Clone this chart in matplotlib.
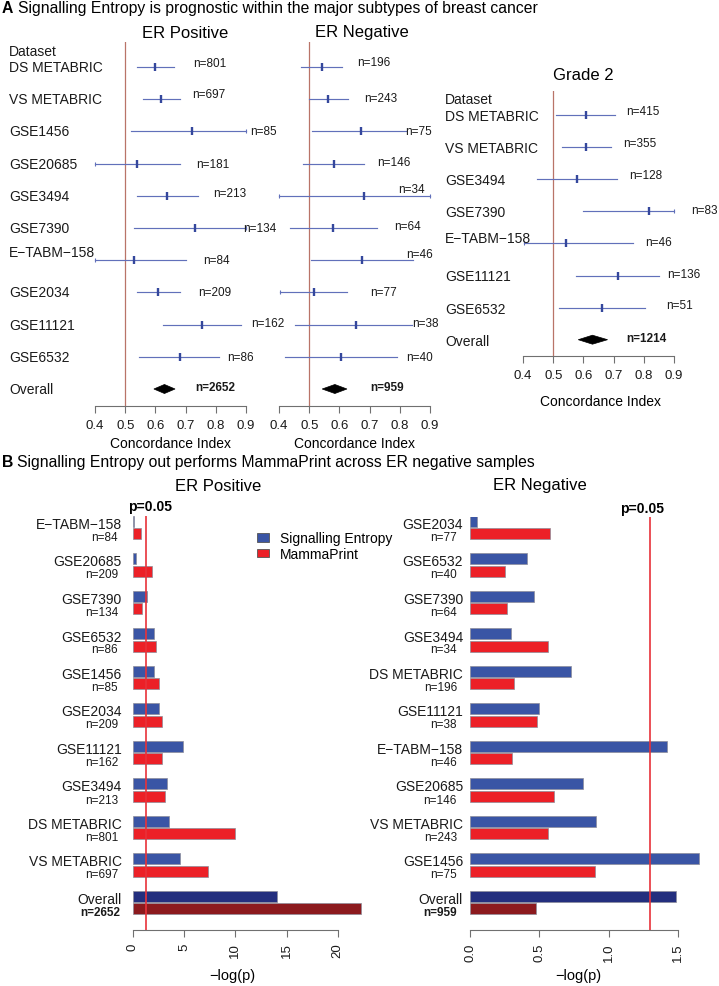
import matplotlib
matplotlib.use("Agg")
import matplotlib.pyplot as plt
from matplotlib.patches import Polygon, Patch
import numpy as np

plt.rcParams['font.family'] = ['Liberation Sans', 'DejaVu Sans']

# ---------------- data: panel A (forest plots) ----------------
erpos_names = ['DS METABRIC', 'VS METABRIC', 'GSE1456', 'GSE20685', 'GSE3494', 'GSE7390',
               'E\u2212TABM\u2212158', 'GSE2034', 'GSE11121', 'GSE6532']
erpos_n = [801, 697, 85, 181, 213, 134, 84, 209, 162, 86]
erpos_lo = [0.54, 0.56, 0.52, 0.40, 0.54, 0.53, 0.40, 0.54, 0.625, 0.545]
erpos_mid = [0.60, 0.62, 0.72, 0.54, 0.64, 0.73, 0.53, 0.61, 0.755, 0.68]
erpos_hi = [0.66, 0.68, 0.90, 0.68, 0.74, 0.90, 0.70, 0.68, 0.885, 0.81]
erpos_overall = [0.595, 0.63, 0.665]
erpos_n_overall = 2652

erneg_n = [196, 243, 75, 146, 34, 64, 46, 77, 38, 40]
erneg_lo = [0.473, 0.50, 0.51, 0.48, 0.40, 0.437, 0.507, 0.404, 0.454, 0.42]
erneg_mid = [0.543, 0.563, 0.67, 0.583, 0.68, 0.58, 0.676, 0.515, 0.655, 0.605]
erneg_hi = [0.61, 0.63, 0.82, 0.68, 0.90, 0.725, 0.845, 0.625, 0.84, 0.79]
erneg_overall = [0.543, 0.585, 0.625]
erneg_n_overall = 959

g2_names = ['DS METABRIC', 'VS METABRIC', 'GSE3494', 'GSE7390', 'E\u2212TABM\u2212158',
            'GSE11121', 'GSE6532']
g2_n = [415, 355, 128, 83, 46, 136, 51]
g2_lo = [0.51, 0.53, 0.447, 0.60, 0.404, 0.576, 0.52]
g2_mid = [0.609, 0.61, 0.58, 0.818, 0.543, 0.715, 0.662]
g2_hi = [0.705, 0.69, 0.71, 0.90, 0.765, 0.85, 0.805]
g2_overall = [0.583, 0.63, 0.68]
g2_n_overall = 1214

ci_ticks = [0.4, 0.5, 0.6, 0.7, 0.8, 0.9]

# ---------------- data: panel B (bar charts) ----------------
bpos_names = ['E\u2212TABM\u2212158', 'GSE20685', 'GSE7390', 'GSE6532', 'GSE1456', 'GSE2034',
              'GSE11121', 'GSE3494', 'DS METABRIC', 'VS METABRIC', 'Overall']
bpos_n = [84, 209, 134, 86, 85, 209, 162, 213, 801, 697, 2652]
bpos_se = [0.08, 0.29, 1.34, 2.08, 2.02, 2.57, 4.85, 3.29, 3.55, 4.62, 14.1]
bpos_mp = [0.75, 1.86, 0.88, 2.28, 2.5, 2.86, 2.8, 3.12, 9.93, 7.29, 22.3]
bpos_ticks = [0, 5, 10, 15, 20]

bneg_names = ['GSE2034', 'GSE6532', 'GSE7390', 'GSE3494', 'DS METABRIC', 'GSE11121',
              'E\u2212TABM\u2212158', 'GSE20685', 'VS METABRIC', 'GSE1456', 'Overall']
bneg_n = [77, 40, 64, 34, 196, 38, 46, 146, 243, 75, 959]
bneg_se = [0.048, 0.41, 0.46, 0.296, 0.726, 0.50, 1.424, 0.813, 0.907, 1.652, 1.489]
bneg_mp = [0.575, 0.25, 0.27, 0.56, 0.32, 0.486, 0.303, 0.604, 0.563, 0.90, 0.478]
bneg_ticks = [0.0, 0.5, 1.0, 1.5]
bneg_ticklabels = ['0.0', '0.5', '1.0', '1.5']

p_threshold = -np.log10(0.05)

# ---------------- layout (label placement, not data) ----------------
erpos_lab_x = [0.7245, 0.721, 0.913, 0.734, 0.791, 0.89, 0.758, 0.741, 0.917, 0.837]
erpos_lab_dy = [4, 5, 0, 0, 3, 0, 0, 0, 2, 0]
erpos_ov_x = 0.731
erneg_lab_x = [0.658, 0.681, 0.817, 0.724, 0.794, 0.781, 0.82, 0.701, 0.84, 0.82]
erneg_lab_dy = [5, 1, 0, 2, 7, 2, 6, 0, 2, 0]
erneg_ov_x = 0.701
g2_lab_x = [0.741, 0.731, 0.751, 0.956, 0.804, 0.877, 0.874]
g2_lab_dy = [4, 4, 4, 1, 1, 1, 3]
g2_ov_x = 0.741

W, H = 719, 987
fig = plt.figure(figsize=(W / 100, H / 100), dpi=100)


def T(x, y, s, size, **kw):
    kw.setdefault('va', 'center')
    return fig.text(x / W, 1 - y / H, s, fontsize=size, **kw)


def add_ax(left, top, right, bottom):
    return fig.add_axes([left / W, 1 - bottom / H, (right - left) / W, (bottom - top) / H])


CI_COL = '#6170ba'
PT_COL = '#34479c'
REF_COL = '#b97468'
AX_COL = '#707070'
TXT = '#1a1a1a'


def forest(left, right, top, bottom, row0, pitch, lo, mid, hi, ns, ov, n_ov,
           lab_x, lab_dy, ov_x):
    ax = add_ax(left, top, right, bottom)
    nrow = len(lo) + 1
    ax.set_xlim(0.4, 0.9)
    ax.set_ylim((bottom - row0) / pitch, (top - row0) / pitch)
    ax.axvline(0.5, color=REF_COL, lw=0.9, zorder=1)
    for i in range(len(lo)):
        ax.plot([lo[i], hi[i]], [i, i], color=CI_COL, lw=0.85, zorder=2, clip_on=False)
        ax.plot([mid[i]], [i], marker='|', ms=5.5, mew=1.7, color=PT_COL, zorder=3, clip_on=False)
        for e in (lo[i], hi[i]):
            if e <= 0.405 or e >= 0.895:
                ax.plot([e], [i], marker='|', ms=3, mew=0.8, color=CI_COL, clip_on=False)
        ax.text(lab_x[i], i - lab_dy[i] / pitch, f'n={ns[i]}', fontsize=8.5, color=TXT,
                va='center', ha='left', clip_on=False)
    yo = nrow - 1
    h = 0.14
    ax.add_patch(Polygon([[ov[0], yo], [ov[1], yo - h], [ov[2], yo], [ov[1], yo + h]],
                         closed=True, facecolor='black', edgecolor='black', lw=0.5, zorder=3))
    ax.text(ov_x, yo - 0.06, f'n={n_ov}', fontsize=8.5, fontweight='bold', color=TXT,
            va='center', ha='left', clip_on=False)
    for s in ['top', 'right', 'left']:
        ax.spines[s].set_visible(False)
    ax.spines['bottom'].set_color(AX_COL)
    ax.spines['bottom'].set_linewidth(0.8)
    ax.set_yticks([])
    ax.set_xticks(ci_ticks)
    ax.set_xticklabels([f'{t:.1f}' for t in ci_ticks])
    ax.tick_params(axis='x', direction='out', length=5, width=0.8, color=AX_COL,
                   labelsize=9.5, pad=4.5, labelcolor=TXT)
    ax.patch.set_visible(False)
    return ax


# ---------------- panel A ----------------
T(2, 8.5, 'A', 11.3, fontweight='bold', ha='left')
T(18, 8.5, 'Signalling Entropy is prognostic within the major subtypes of breast cancer', 11.3,
  ha='left')

forest(95, 246, 43, 407, 68, 32.2, erpos_lo, erpos_mid, erpos_hi, erpos_n, erpos_overall,
       erpos_n_overall, erpos_lab_x, erpos_lab_dy, erpos_ov_x)
forest(279, 430, 43, 407, 68, 32.2, erneg_lo, erneg_mid, erneg_hi, erneg_n, erneg_overall,
       erneg_n_overall, erneg_lab_x, erneg_lab_dy, erneg_ov_x)
forest(523, 674, 92, 357, 116, 32.1, g2_lo, g2_mid, g2_hi, g2_n, g2_overall, g2_n_overall,
       g2_lab_x, g2_lab_dy, g2_ov_x)

T(185, 34, 'ER Positive', 12, ha='center')
T(362, 33, 'ER Negative', 12, ha='center')
T(583, 75, 'Grade 2', 12, ha='center')

T(171, 444, 'Concordance Index', 10, ha='center')
T(354, 444, 'Concordance Index', 10, ha='center')
T(601, 402, 'Concordance Index', 10, ha='center')

# row labels
T(9, 52, 'Dataset', 10, ha='left', color=TXT)
for i, nm in enumerate(erpos_names + ['Overall']):
    dy = -8 if nm.startswith('E\u2212') else 0
    T(9, 68 + 32.2 * i + dy, nm, 10, ha='left', color=TXT)
T(445, 100, 'Dataset', 10, ha='left', color=TXT)
for i, nm in enumerate(g2_names + ['Overall']):
    dy = -6 if nm.startswith('E\u2212') else 0
    T(445, 117 + 32.1 * i + dy, nm, 10, ha='left', color=TXT)

# ---------------- panel B ----------------
T(2, 463, 'B', 11.3, fontweight='bold', ha='left')
T(17, 463, 'Signalling Entropy out performs MammaPrint across ER negative samples', 11.3,
  ha='left')

BLUE = '#3a55a5'
RED = '#ec2027'
NAVY = '#232e7e'
DRED = '#8c1a1e'


def bars(left, right, top, bottom, xmax, se, mp, ticks, ticklabels):
    ax = add_ax(left, top, right, bottom)
    k = len(se)
    pos = np.arange(k) * 3
    bcol = [BLUE] * (k - 1) + [NAVY]
    rcol = [RED] * (k - 1) + [DRED]
    ax.barh(pos, se, height=0.88, color=bcol, edgecolor='#8d8d9a', linewidth=0.5, zorder=2)
    ax.barh(pos + 1, mp, height=0.88, color=rcol, edgecolor='#8d8d9a', linewidth=0.5, zorder=2)
    ax.set_xlim(0, xmax)
    ax.set_ylim((bottom - 522) / 12.5, (top - 522) / 12.5)
    ax.axvline(p_threshold, color='#e8323a', lw=1.2, zorder=3)
    for s in ['top', 'right', 'left']:
        ax.spines[s].set_visible(False)
    ax.spines['bottom'].set_bounds(ticks[0], ticks[-1])
    ax.spines['bottom'].set_color(AX_COL)
    ax.spines['bottom'].set_linewidth(0.8)
    ax.set_yticks([])
    ax.set_xticks(ticks)
    ax.set_xticklabels(ticklabels, rotation=90)
    ax.tick_params(axis='x', direction='out', length=5, width=0.8, color=AX_COL,
                   labelsize=9.5, pad=4, labelcolor=TXT)
    ax.patch.set_visible(False)
    return ax


axl = bars(133, 368.5, 517, 931, 23, bpos_se, bpos_mp, bpos_ticks, [str(t) for t in bpos_ticks])
axr = bars(470, 705.6, 518, 931, 1.7, bneg_se, bneg_mp, bneg_ticks, bneg_ticklabels)

T(218, 487, 'ER Positive', 12, ha='center')
T(540, 486, 'ER Negative', 12, ha='center')
T(150, 507, 'p=0.05', 10, ha='center', fontweight='bold')
T(642, 509, 'p=0.05', 10, ha='center', fontweight='bold')
T(232, 976, '\u2212log(p)', 10.5, ha='center')
T(578, 976, '\u2212log(p)', 10.5, ha='center')

for i, (nm, n) in enumerate(zip(bpos_names, bpos_n)):
    yb = 522 + 37.5 * i
    T(122, yb + 3, nm, 10, ha='right', color=TXT)
    last = (i == len(bpos_names) - 1)
    T(120 if last else 118, yb + 16, f'n={n}', 8.5, ha='right', color=TXT,
      fontweight='bold' if last else 'normal')
for i, (nm, n) in enumerate(zip(bneg_names, bneg_n)):
    yb = 522 + 37.5 * i
    T(463, yb + 3, nm, 10, ha='right', color=TXT)
    last = (i == len(bneg_names) - 1)
    T(457, yb + 16, f'n={n}', 8.5, ha='right', color=TXT,
      fontweight='bold' if last else 'normal')

handles = [Patch(facecolor=BLUE, edgecolor='#555555', lw=0.6),
           Patch(facecolor=RED, edgecolor='#555555', lw=0.6)]
axl.legend(handles, ['Signalling Entropy', 'MammaPrint'], loc='center left',
           bbox_to_anchor=(257 / W, 1 - 547 / H), bbox_transform=fig.transFigure,
           frameon=False, fontsize=10, handlelength=0.85, handleheight=0.6,
           handletextpad=0.8, labelspacing=0.12, borderpad=0, borderaxespad=0)

fig.savefig('out.png', dpi=100)
